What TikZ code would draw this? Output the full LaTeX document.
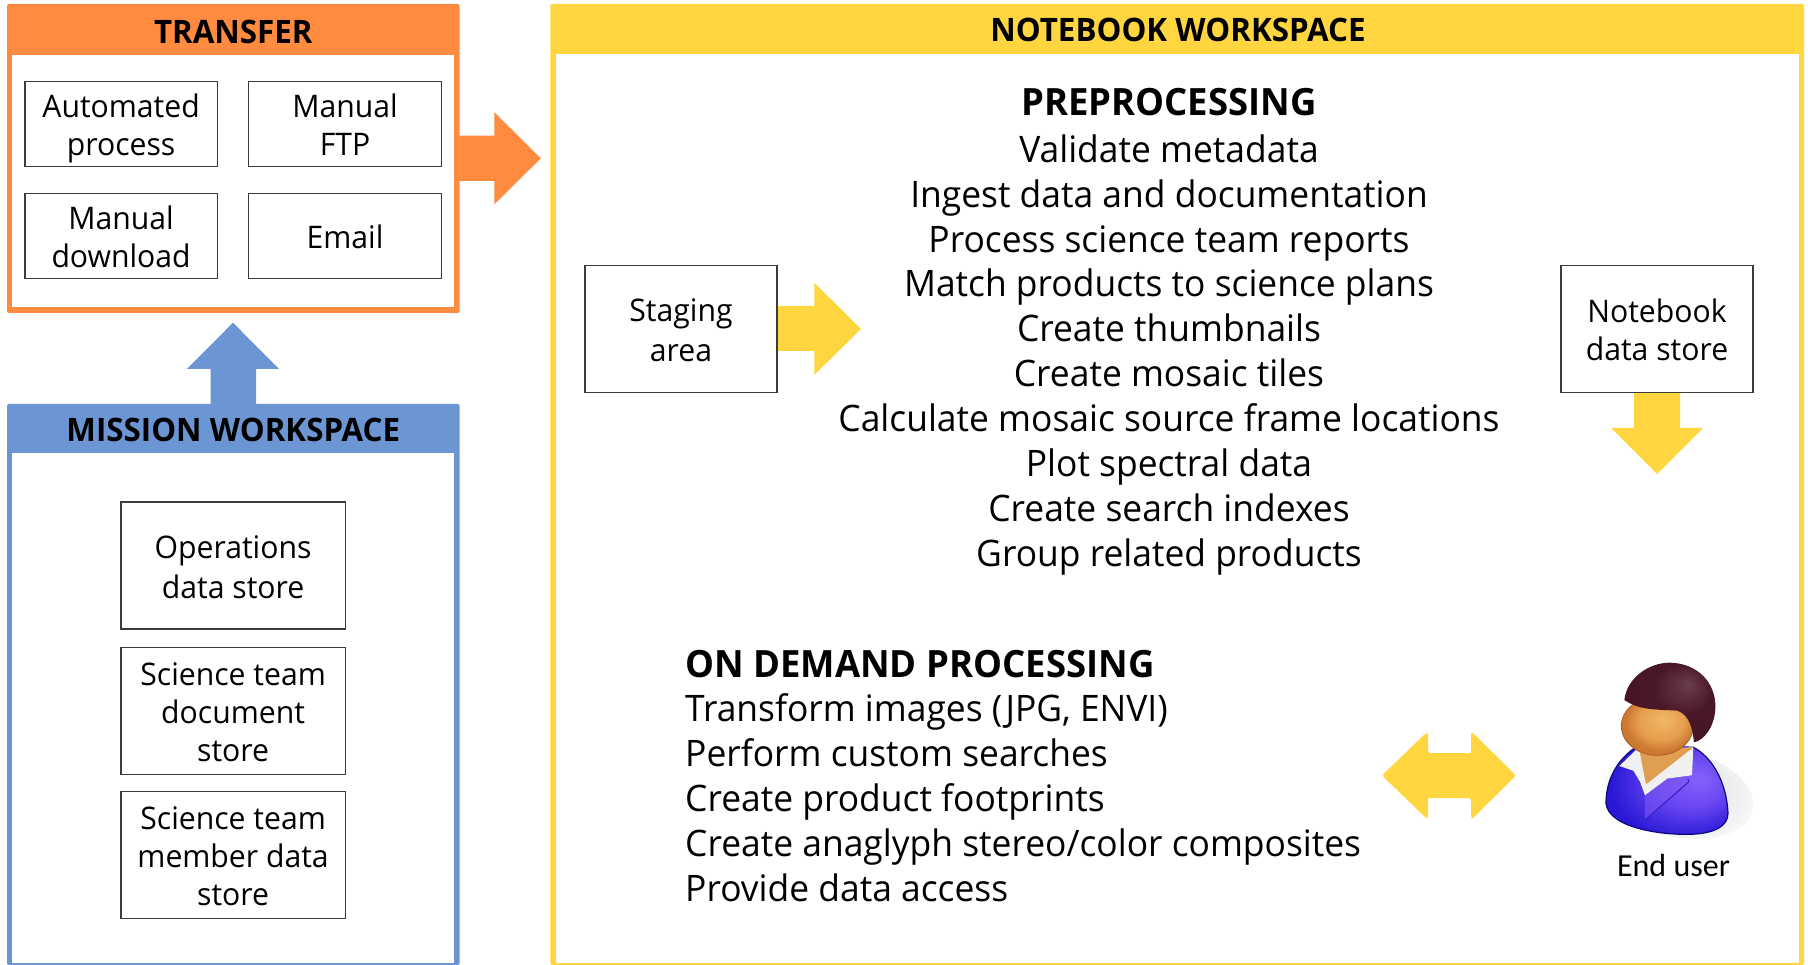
\documentclass[tikz,border=0pt]{standalone}
\usepackage{fontspec}
\newfontfamily\mainf[FakeStretch=0.97]{Open Sans}
\newfontfamily\calf{Carlito}
\definecolor{yel}{HTML}{FFD640}
\definecolor{org}{HTML}{FF8B41}
\definecolor{blu}{HTML}{6B96D3}
\definecolor{edge}{HTML}{3C3C3C}
\definecolor{bodya}{HTML}{8561FA}
\definecolor{bodyb}{HTML}{6B47F2}
\definecolor{bodyc}{HTML}{2919D6}
\definecolor{bodyd}{HTML}{1F12CC}
\definecolor{bodyline}{HTML}{0D0880}
\definecolor{haira}{HTML}{6B3D4F}
\definecolor{hairb}{HTML}{4A1729}
\definecolor{hairc}{HTML}{40121F}
\definecolor{facea}{HTML}{F2B866}
\definecolor{faceb}{HTML}{E69E4D}
\definecolor{facec}{HTML}{CC7A33}
\definecolor{faced}{HTML}{BF6B29}
\definecolor{faceline}{HTML}{AD5C1F}
\definecolor{neck}{HTML}{E09E52}
\definecolor{lapel}{HTML}{8059F2}
\definecolor{lapelline}{HTML}{331FBF}
\definecolor{collar}{HTML}{F0F0EE}
\pgfdeclareradialshading{bodysh}{\pgfpoint{14bp}{6bp}}{color(0bp)=(bodya);color(14bp)=(bodyb);color(30bp)=(bodyc);color(60bp)=(bodyd)}
\pgfdeclareradialshading{hairsh}{\pgfpoint{10bp}{12bp}}{color(0bp)=(haira);color(16bp)=(hairb);color(50bp)=(hairc)}
\pgfdeclareradialshading{facesh}{\pgfpoint{4bp}{6bp}}{color(0bp)=(facea);color(16bp)=(faceb);color(24bp)=(facec);color(50bp)=(faced)}
\tikzset{
  lbox/.style={draw=edge,line width=1.3pt,fill=white,inner sep=0pt,align=center,font=\boxf},
  wbox/.style={lbox,minimum width=192.5pt,minimum height=84.8pt},
  sbox/.style={lbox,minimum width=224.2pt,minimum height=127pt},
  nbox/.style={lbox,minimum width=192pt,minimum height=127pt},
  head/.style={inner sep=0pt,anchor=base,font=\headf},
  panel/.style={inner sep=0pt,rounded corners=2pt}
}
\newcommand{\boxf}{\mainf\fontsize{31.1}{38}\selectfont}
\newcommand{\headf}{\mainf\bfseries\fontsize{32.3}{38}\selectfont}
\newcommand{\listf}{\mainf\fontsize{36.5}{44.9}\selectfont}
\newcommand{\bigf}{\mainf\bfseries\fontsize{37.6}{44.9}\selectfont}
\newcommand{\bs}{\vrule width 0pt height 31.8pt depth 6.2pt\relax}
\newcommand{\ls}{\vrule width 0pt height 36pt depth 8.9pt\relax}
\begin{document}
\begin{tikzpicture}[x=1pt,y=-1pt]
\useasboundingbox (0,0) rectangle (1808,965);
% block arrows behind panels
\fill[org] (454,135.7) -- (494.4,135.7) -- (494.4,112.3) -- (540.8,158.3) -- (494.4,204.3) -- (494.4,181) -- (454,181) -- cycle;
\fill[blu] (210.5,410) -- (210.5,369) -- (187,369) -- (233,322.7) -- (279,369) -- (256,369) -- (256,410) -- cycle;
% panels
\fill[org,panel] (7,4) rectangle (459.6,313);
\fill[white] (12,55) rectangle (454,307.5);
\fill[blu,panel] (7,404) rectangle (459.6,965);
\fill[white] (12,452.7) rectangle (454,963);
\fill[yel,panel] (550.3,4) rectangle (1804,965);
\fill[white] (555.7,53.7) rectangle (1799,962.7);
% titles
\node[head] (ttransfer) at (233.3,43.7) {TRANSFER};
\node[head] (tmission) at (233.3,441.7) {MISSION WORKSPACE};
\node[head] (tnotebook) at (1178,41.2) {NOTEBOOK WORKSPACE};
% transfer boxes
\node[wbox] (auto) at (121.1,123.9) {\bs Automated\\\bs process};
\node[wbox] (ftp) at (345,123.9) {\bs Manual\\\bs FTP};
\node[wbox] (down) at (121.1,236) {\bs Manual\\\bs download};
\node[wbox] (email) at (345,236) {\bs Email};
% mission boxes
\node[sbox] (ops) at (233.1,565.5) {\bs Operations\\\bs data store};
\node[sbox] (doc) at (233.1,710.8) {\bs Science team\\\bs document\\\bs store};
\node[sbox] (mem) at (233.1,854.8) {\bs Science team\\\bs member data\\\bs store};
% yellow arrows
\fill[yel] (777,306) -- (814.3,306) -- (814.3,282.7) -- (861,329) -- (814.3,375) -- (814.3,351) -- (777,351) -- cycle;
\fill[yel] (1634,392) -- (1634,428) -- (1611,428) -- (1657,474) -- (1703,428) -- (1680,428) -- (1680,392) -- cycle;
\fill[yel,rounded corners=2.5pt] (1382,775.5) -- (1426,733) -- (1428,733) -- (1428,753) [sharp corners] -- (1471,753) [rounded corners=2.5pt] -- (1471,733) -- (1473,733) -- (1516,775.5) -- (1473,818) -- (1471,818) -- (1471,798) [sharp corners] -- (1428,798) [rounded corners=2.5pt] -- (1428,818) -- (1426,818) -- cycle;
% staging and store
\node[nbox] (stage) at (681,328.8) {\bs Staging\\\bs area};
\node[nbox] (store) at (1657,328.8) {\bs Notebook\\\bs data store};
% preprocessing
\node[anchor=base,inner sep=0pt,font=\bigf] (pre) at (1169,116) {PREPROCESSING};
\node[anchor=north,inner sep=0pt,align=center,font=\listf] (prelist) at (1169,126) {\ls Validate metadata\\\ls Ingest data and documentation\\\ls Process science team reports\\\ls Match products to science plans\\\ls Create thumbnails\\\ls Create mosaic tiles\\\ls Calculate mosaic source frame locations\\\ls Plot spectral data\\\ls Create search indexes\\\ls Group related products};
% on demand
\node[anchor=base west,inner sep=0pt,font=\bigf] (ond) at (685,677.7) {ON DEMAND PROCESSING};
\node[anchor=north west,inner sep=0pt,align=left,font=\listf] (ondlist) at (685,685.7) {\ls Transform images (JPG, ENVI)\\\ls Perform custom searches\\\ls Create product footprints\\\ls Create anaglyph stereo/color composites\\\ls Provide data access};
% end user label
\node[anchor=base,inner sep=0pt,font={\calf\fontsize{32}{38}\selectfont}] (enduser) at (1673.5,876.7) {End user};
% user figure (drawn in zoom units)
\begin{scope}[shift={(1590,650)},x=0.3333pt,y=-0.3333pt]
\shade[inner color=black!15,outer color=black!3,rotate around={-12:(268,432)}] (268,432) ellipse (225 and 130);
\path[shade,shading=bodysh,draw=bodyline,line width=1.2pt]
  (48,460) .. controls (48,380) and (90,318) .. (150,284) -- (310,292) .. controls (365,320) and (410,395) .. (414,490)
  .. controls (414,528) and (375,551) .. (300,553) .. controls (200,555) and (55,530) .. (48,460) -- cycle;
\fill[collar] (88,348) -- (140,298) -- (310,292) -- (306,376) -- (232,386) -- (165,436) -- (150,395) -- (130,362) -- cycle;
\fill[neck] (148,300) -- (310,292) -- (168,403) -- cycle;
\fill[lapel,opacity=0.55] (306,376) -- (294,392) -- (165,510) -- (165,436) -- (232,386) -- cycle;
\draw[lapelline,line width=1pt] (294,386) -- (296,396) -- (165,510);
\path[shade,shading=facesh,draw=faceline,line width=0.8pt] (202,228) ellipse (108 and 88);
\path[shade,shading=hairsh]
  (103,150) .. controls (110,85) and (175,38) .. (240,38) .. controls (325,40) and (378,100) .. (376,172)
  .. controls (375,232) and (340,272) .. (312,277) .. controls (308,240) and (300,195) .. (262,182)
  .. controls (200,178) and (150,182) .. (103,150) -- cycle;
\end{scope}
\end{tikzpicture}
\end{document}
